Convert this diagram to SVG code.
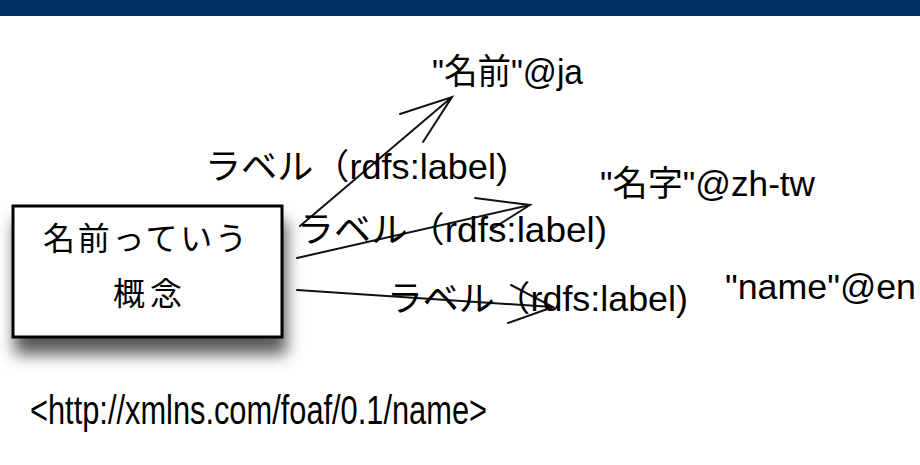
<svg xmlns="http://www.w3.org/2000/svg" width="920" height="465" viewBox="0 0 920 465">
  <defs>
    <filter id="shadow" x="-20%" y="-20%" width="140%" height="180%">
      <feDropShadow dx="3" dy="16" stdDeviation="8" flood-color="#000" flood-opacity="0.65"/>
    </filter>
  </defs>
  <style>
    text { font-family: "Liberation Sans", "Noto Sans CJK JP", sans-serif; fill: #000; }
    .edge { stroke: #111; stroke-width: 2; fill: none; stroke-linecap: round; }
    .lbl { font-size: 35px; }
    .lit { font-size: 35px; }
  </style>
  <rect x="0" y="0" width="920" height="465" fill="#fff"/>
  <rect x="0" y="0" width="920" height="16" fill="#013263"/>

  <g id="concept">
    <rect x="13" y="206" width="269" height="131" fill="#fff" stroke="#000" stroke-width="3" filter="url(#shadow)"/>
    <text x="43" y="250" font-size="32" textLength="204" lengthAdjust="spacing">名前っていう</text>
    <text x="113" y="305" font-size="32" textLength="69" lengthAdjust="spacing">概念</text>
  </g>

  <g id="lit-ja">
    <text class="lit" x="432" y="84" textLength="151" lengthAdjust="spacingAndGlyphs">"名前"@ja</text>
  </g>
  <g id="lit-zh">
    <text class="lit" x="600" y="196" textLength="215" lengthAdjust="spacingAndGlyphs">"名字"@zh-tw</text>
  </g>
  <g id="lit-en">
    <text class="lit" x="725" y="299" font-size="37" textLength="191" lengthAdjust="spacingAndGlyphs">"name"@en</text>
  </g>

  <g id="connectors">
    <path class="edge" d="M300,226 L452,97 M400,114 L452,97 L423,142"/>
    <path class="edge" d="M297,258 L530,205 M475,198 L530,205 L492,229"/>
    <path class="edge" d="M297,290 L553,307 M511,285 L553,307 L508,323"/>
    <text class="lbl" x="205" y="179" textLength="303" lengthAdjust="spacingAndGlyphs">ラベル（rdfs:label)</text>
    <text class="lbl" x="297" y="242" textLength="310" lengthAdjust="spacingAndGlyphs">ラベル（rdfs:label)</text>
    <text class="lbl" x="387" y="311" textLength="301" lengthAdjust="spacingAndGlyphs">ラベル（rdfs:label)</text>
  </g>

  <g id="uri">
    <text x="30" y="424" font-size="40" textLength="457" lengthAdjust="spacingAndGlyphs">&lt;http://xmlns.com/foaf/0.1/name&gt;</text>
  </g>
</svg>
